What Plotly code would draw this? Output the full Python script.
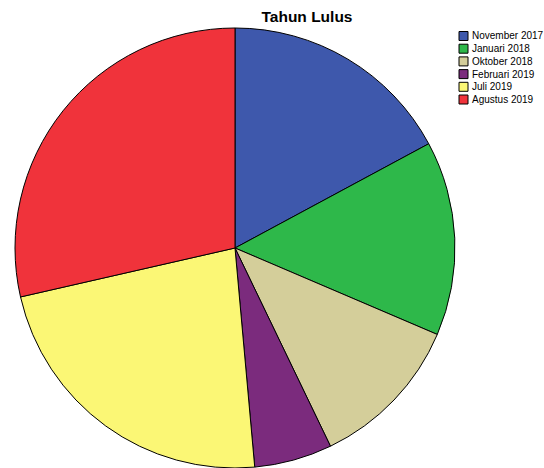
import plotly.graph_objects as go

labels = ["November 2017", "Januari 2018", "Oktober 2018", "Februari 2019", "Juli 2019", "Agustus 2019"]
values = [6, 5, 4, 2, 8, 10]
colors = ["#3e58ac", "#2eb84a", "#d4ce9a", "#7b2b7d", "#fbf775", "#f0333b"]

W, H = 544, 468
cx, cy, r = 235, 248, 220

fig = go.Figure(go.Pie(
    labels=labels,
    values=values,
    sort=False,
    direction="clockwise",
    rotation=0,
    marker=dict(colors=colors, line=dict(color="#000000", width=1)),
    textinfo="none",
    hoverinfo="label+value+percent",
    showlegend=False,
    domain=dict(x=[(cx - r) / W, (cx + r) / W], y=[max(0, (H - cy - r) / H), min(1, (H - cy + r) / H)]),
))

# manual legend (SPSS-style compact legend)
shapes = []
annotations = []
lx0, ly0, step, sw = 459, 36, 12.7, 9
for i, (lab, col) in enumerate(zip(labels, colors)):
    yc = ly0 + i * step
    shapes.append(dict(type="rect", xref="paper", yref="paper",
                       x0=lx0 / W, x1=(lx0 + sw) / W,
                       y0=1 - (yc + sw / 2) / H, y1=1 - (yc - sw / 2) / H,
                       fillcolor=col, line=dict(color="#000", width=1)))
    annotations.append(dict(text=lab, xref="paper", yref="paper",
                            x=(lx0 + sw + 2) / W, y=1 - yc / H, xanchor="left", yanchor="middle",
                            showarrow=False,
                            font=dict(family="Liberation Sans, Arial, sans-serif", size=10, color="#000")))

fig.update_layout(
    width=W, height=H,
    margin=dict(l=0, r=0, t=0, b=0),
    paper_bgcolor="white",
    plot_bgcolor="white",
    showlegend=False,
    shapes=shapes,
    annotations=annotations,
    title=dict(text="<b>Tahun Lulus</b>", x=307 / W, xanchor="center", y=1 - 17 / H,
               yanchor="middle",
               font=dict(family="Liberation Sans, Arial, sans-serif", size=15.5, color="#000")),
)

fig.write_html("out.html",
               config={"displayModeBar": False},
               post_script="document.body.style.margin='0';document.body.style.overflow='hidden';")
